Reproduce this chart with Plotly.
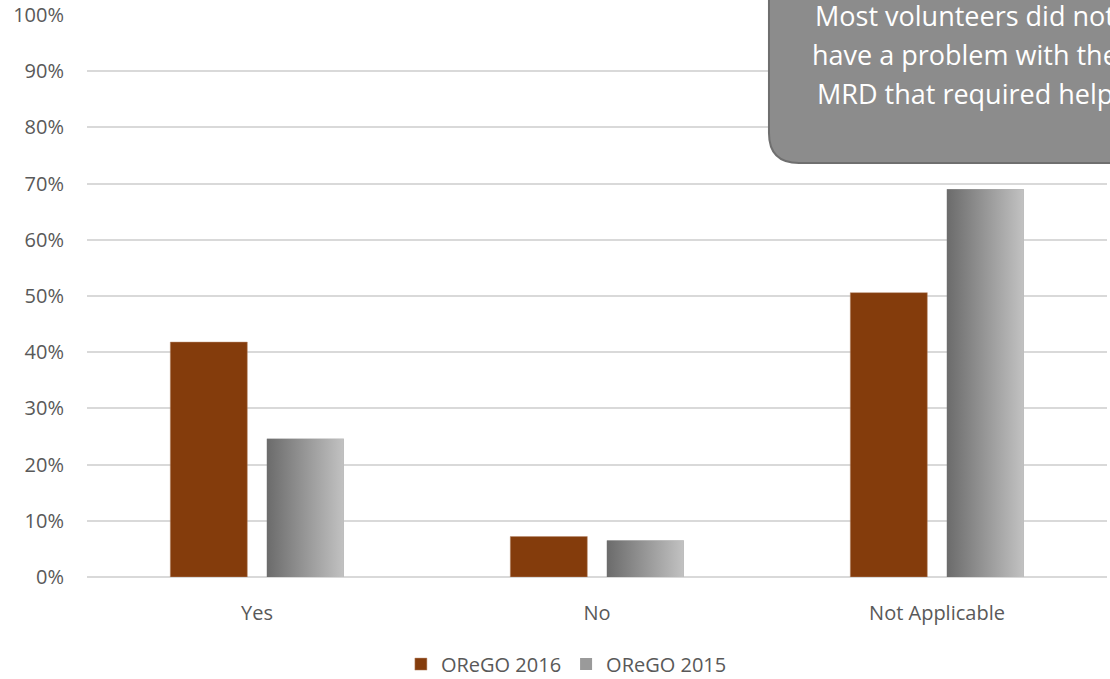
import plotly.graph_objects as go

categories = ["Yes", "No", "Not Applicable"]
orego_2016 = [0.418, 0.072, 0.506]
orego_2015 = [0.246, 0.065, 0.690]
y_ticks = [0, 0.1, 0.2, 0.3, 0.4, 0.5, 0.6, 0.7, 0.8, 0.9, 1.0]
note_lines = ["Most volunteers did not", "have a problem with the", "MRD that required help"]

BROWN = "#843C0C"
GRAY_DARK = "#6b6b6b"
GRAY_LIGHT = "#c2c2c2"
TXT = "#595959"
FONT = "Open Sans"

bar_w = 0.2265
off_2016 = -0.255
off_2015 = 0.029
xpos = list(range(len(categories)))

fig = go.Figure()

fig.add_trace(go.Bar(
    x=xpos, y=orego_2016, name="OReGO 2016",
    width=bar_w, offset=off_2016,
    marker=dict(color=BROWN, line=dict(color="#b98a6e", width=0.5)),
    hovertemplate="%{y:.0%}<extra>OReGO 2016</extra>",
))
fig.add_trace(go.Bar(
    x=xpos, y=orego_2015, name="OReGO 2015",
    width=bar_w, offset=off_2015,
    marker=dict(color="#9a9a9a", line=dict(width=0)),
    hovertemplate="%{y:.0%}<extra>OReGO 2015</extra>",
))

# horizontal gradient overlay on the 2015 bars (one filled shape per bar)
for i, v in zip(xpos, orego_2015):
    x0 = i + off_2015
    x1 = x0 + bar_w
    fig.add_trace(go.Scatter(
        x=[x0, x1, x1, x0, x0], y=[0, 0, v, v, 0],
        mode="lines", line=dict(width=0),
        fill="toself",
        fillgradient=dict(type="horizontal",
                          colorscale=[[0, GRAY_DARK], [1, GRAY_LIGHT]]),
        showlegend=False, hoverinfo="skip",
    ))

# rounded call-out box (runs off the top and right edge)
r_x, r_y = 30 / 1020, 30 / 562
bx0, by0, bx1, by1 = 0.6686, 0.7367, 1.08, 1.08
path = (f"M {bx0},{by1} L {bx0},{by0 + r_y} Q {bx0},{by0} {bx0 + r_x},{by0} "
        f"L {bx1},{by0} L {bx1},{by1} Z")
fig.add_shape(type="path", path=path, xref="paper", yref="paper",
              fillcolor="#8c8c8c", line=dict(color="#6f6f6f", width=2),
              layer="above")

for line_txt, yy in zip(note_lines, [1.0, 0.929, 0.861]):
    fig.add_annotation(text=line_txt, xref="paper", yref="paper",
                       x=0.861, y=yy, xanchor="center", yanchor="middle",
                       showarrow=False,
                       font=dict(family=FONT, size=27, color="white"))

fig.update_layout(
    width=1110, height=679,
    barmode="overlay",
    paper_bgcolor="white", plot_bgcolor="white",
    margin=dict(l=87, r=3, t=15, b=102, autoexpand=False),
    font=dict(family=FONT, size=20, color=TXT),
    showlegend=True,
    legend=dict(orientation="h", x=0.47, xanchor="center", y=-0.155, yanchor="middle",
                font=dict(family=FONT, size=20, color=TXT), traceorder="normal"),
    xaxis=dict(range=[-0.5, 2.5], tickmode="array", tickvals=xpos, ticktext=categories,
               showgrid=False, zeroline=False, showline=False, ticks="",
               ticklabelstandoff=22, tickfont=dict(size=20, color=TXT)),
    yaxis=dict(range=[0, 1.0], tickmode="array", tickvals=y_ticks, tickformat=".0%",
               showgrid=True, gridcolor="#d9d9d9", gridwidth=1.5,
               zeroline=True, zerolinecolor="#d9d9d9", zerolinewidth=1.5,
               showline=False, ticks="", ticklabelstandoff=22,
               tickfont=dict(size=20, color=TXT)),
)

fig.write_html("out.html", config={"displayModeBar": False},
               post_script="document.body.style.margin = '0';")
